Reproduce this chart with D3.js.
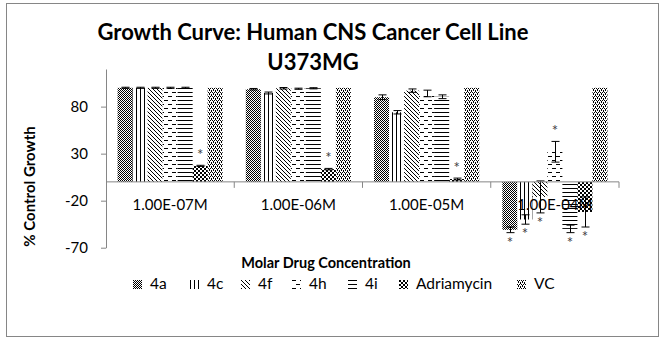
<!DOCTYPE html>
<html><head><meta charset="utf-8">
<script src="https://cdn.jsdelivr.net/npm/d3@7"></script>
<style>
html,body{margin:0;padding:0;background:#fff;}
svg{display:block;font-family:Lato,"Open Sans",sans-serif;}
</style></head>
<body>
<svg id="chart" width="663" height="339"></svg>
<script>
// ---- data ----
const categories = ["1.00E-07M", "1.00E-06M", "1.00E-05M", "1.00E-04M"];
const seriesNames = ["4a", "4c", "4f", "4h", "4i", "Adriamycin", "VC"];
const values4a  = [100, 98.5, 90, -51];
const values4c  = [100, 94.5, 74, -40];
const values4f  = [100, 99.5, 97, -16];
const values4h  = [100, 99, 94, 32];
const values4i  = [100, 99.5, 90.5, -50];
const valuesAdr = [17, 13.5, 3, -32];
const valuesVC  = [100, 100, 100, 100];
const errors4a  = [0.6, 0.8, 2.5, 3];
const errors4c  = [0.6, 1, 1.8, 5];
const errors4f  = [0.6, 0.8, 1.8, 17];
const errors4h  = [0.6, 0.6, 3.5, 11];
const errors4i  = [0.6, 0.6, 2, 4];
const errorsAdr = [0.6, 0.8, 1, 16];
const errorsVC  = [0, 0, 0, 0];
const sig4a  = [0, 0, 0, 1];
const sig4c  = [0, 0, 0, 1];
const sig4f  = [0, 0, 0, 1];
const sig4h  = [0, 0, 0, 1];
const sig4i  = [0, 0, 0, 1];
const sigAdr = [1, 1, 1, 1];
const sigVC  = [0, 0, 0, 0];
const yTicks = [-70, -20, 30, 80];
const yDomain = [-70, 120];
const titleLines = ["Growth Curve: Human CNS Cancer Cell Line", "U373MG"];
const yTitle = "% Control Growth";
const xTitle = "Molar Drug Concentration";

const seriesValues = [values4a, values4c, values4f, values4h, values4i, valuesAdr, valuesVC];
const seriesErrors = [errors4a, errors4c, errors4f, errors4h, errors4i, errorsAdr, errorsVC];
const seriesSig = [sig4a, sig4c, sig4f, sig4h, sig4i, sigAdr, sigVC];

const rows = [];
categories.forEach((c, ci) => seriesNames.forEach((s, si) => rows.push({
  cat: c, ser: s, si, v: seriesValues[si][ci], e: seriesErrors[si][ci], sig: seriesSig[si][ci]
})));

// ---- layout ----
const svg = d3.select("#chart");
const plot = {left: 106, right: 619, top: 69, bottom: 247.7};
const axisColor = "#868686";

// patterns
const defs = svg.append("defs");
function pat(id, w, h, draw) {
  const p = defs.append("pattern").attr("id", id).attr("patternUnits", "userSpaceOnUse")
    .attr("width", w).attr("height", h);
  p.append("rect").attr("width", w).attr("height", h).attr("fill", "#fff");
  draw(p);
}
const px = (p, x, y, w = 1, h = 1) => p.append("rect").attr("x", x).attr("y", y).attr("width", w).attr("height", h).attr("fill", "#000");
pat("p0", 2, 2, p => { px(p, 0, 0); px(p, 1, 1); });                       // 4a fine checker
pat("p1", 4, 4, p => { px(p, 0, 0, 1, 4); });                              // 4c vertical
pat("p2", 4, 4, p => { px(p, 0, 0); px(p, 1, 1); px(p, 2, 2); px(p, 3, 3); }); // 4f diagonal
pat("p3", 8, 8, p => { px(p, 0, 0, 4, 1); px(p, 4, 4, 4, 1); });           // 4h dashed horiz
pat("p4", 4, 4, p => { px(p, 0, 0, 4, 1); });                              // 4i horizontal
pat("p5", 4, 4, p => { px(p, 0, 0, 2, 2); px(p, 2, 2, 2, 2); });           // Adriamycin checker
pat("p6", 4, 4, p => { px(p, 0, 0); px(p, 2, 0); px(p, 1, 2); px(p, 3, 2); px(p, 1, 1); px(p, 3, 3); }); // VC

// outer border
svg.append("rect").attr("x", 6.5).attr("y", 3.5).attr("width", 652).attr("height", 333)
  .attr("fill", "none").attr("stroke", axisColor).attr("stroke-width", 1);

// scales
const x0 = d3.scaleBand().domain(categories).range([plot.left, plot.right]).paddingInner(0).paddingOuter(0);
const x1 = d3.scaleBand().domain(seriesNames).range([0, x0.bandwidth()]).paddingInner(0).paddingOuter(0.77);
const y = d3.scaleLinear().domain(yDomain).range([plot.bottom, plot.top]);

// title
svg.append("g").selectAll("text").data(titleLines).join("text")
  .attr("x", 313).attr("y", (d, i) => 40 + i * 30)
  .attr("text-anchor", "middle").attr("font-weight", "bold").attr("font-size", 22)
  .text(d => d);

// y axis
const yAxis = svg.append("g").attr("transform", `translate(${plot.left},0)`)
  .call(d3.axisLeft(y).tickValues(yTicks).tickFormat(d => String(d)).tickSize(5).tickPadding(13).tickSizeOuter(0));
yAxis.select(".domain").attr("stroke", axisColor);
yAxis.selectAll(".tick line").attr("stroke", axisColor);
yAxis.selectAll(".tick text").attr("font-size", 15).attr("fill", "#000").attr("font-family", "Lato");

// bars
svg.append("g").selectAll("rect").data(rows).join("rect")
  .attr("x", d => x0(d.cat) + x1(d.ser))
  .attr("width", x1.bandwidth())
  .attr("y", d => y(Math.max(0, d.v)))
  .attr("height", d => Math.abs(y(d.v) - y(0)))
  .attr("fill", d => `url(#p${d.si})`);

// error bars
const eb = svg.append("g").attr("stroke", "#000").attr("stroke-width", 1);
rows.filter(d => d.e > 0).forEach(d => {
  const cx = Math.round(x0(d.cat) + x1(d.ser) + x1.bandwidth() / 2) + 0.5;
  const y1 = y(d.v + d.e), y2 = y(d.v - d.e);
  eb.append("line").attr("x1", cx).attr("x2", cx).attr("y1", y1).attr("y2", y2);
  eb.append("line").attr("x1", cx - 4).attr("x2", cx + 4).attr("y1", y1).attr("y2", y1);
  eb.append("line").attr("x1", cx - 4).attr("x2", cx + 4).attr("y1", y2).attr("y2", y2);
});

// significance asterisks
svg.append("g").selectAll("text").data(rows.filter(d => d.sig)).join("text")
  .attr("x", d => x0(d.cat) + x1(d.ser) + x1.bandwidth() / 2)
  .attr("y", d => d.v >= 0 ? y(d.v + d.e) - 12 + 7 : y(d.v - d.e) + 8 + 7)
  .attr("text-anchor", "middle").attr("font-size", 15).attr("fill", "#404040")
  .text("*");

// x axis (at zero)
const xg = svg.append("g").attr("transform", `translate(0,${y(0)})`);
xg.append("line").attr("x1", plot.left).attr("x2", plot.right).attr("stroke", axisColor);
const bounds = categories.map(c => x0(c)).concat([plot.right]);
xg.selectAll("line.tk").data(bounds.slice(1)).join("line").attr("class", "tk")
  .attr("x1", d => d).attr("x2", d => d).attr("y1", 0).attr("y2", 6).attr("stroke", axisColor);
xg.selectAll("text").data(categories).join("text")
  .attr("x", d => x0(d) + x0.bandwidth() / 2).attr("y", 28.5)
  .attr("text-anchor", "middle").attr("font-size", 15).text(d => d);

// axis titles
svg.append("text").attr("transform", "translate(35,186.5) rotate(-90)")
  .attr("text-anchor", "middle").attr("font-weight", "bold").attr("font-size", 15).text(yTitle);
svg.append("text").attr("x", 326).attr("y", 268)
  .attr("text-anchor", "middle").attr("font-weight", "bold").attr("font-size", 14.5).text(xTitle);

// legend
const legendX = [133, 190, 241, 292, 348, 399, 517];
const lg = svg.append("g").selectAll("g").data(seriesNames).join("g")
  .attr("transform", (d, i) => `translate(${legendX[i]},280)`);
lg.append("rect").attr("width", 9).attr("height", 9).attr("fill", (d, i) => `url(#p${i})`);
lg.append("text").attr("x", 17).attr("y", 8.5).attr("font-size", 15.5).text(d => d);
</script>
</body></html>
